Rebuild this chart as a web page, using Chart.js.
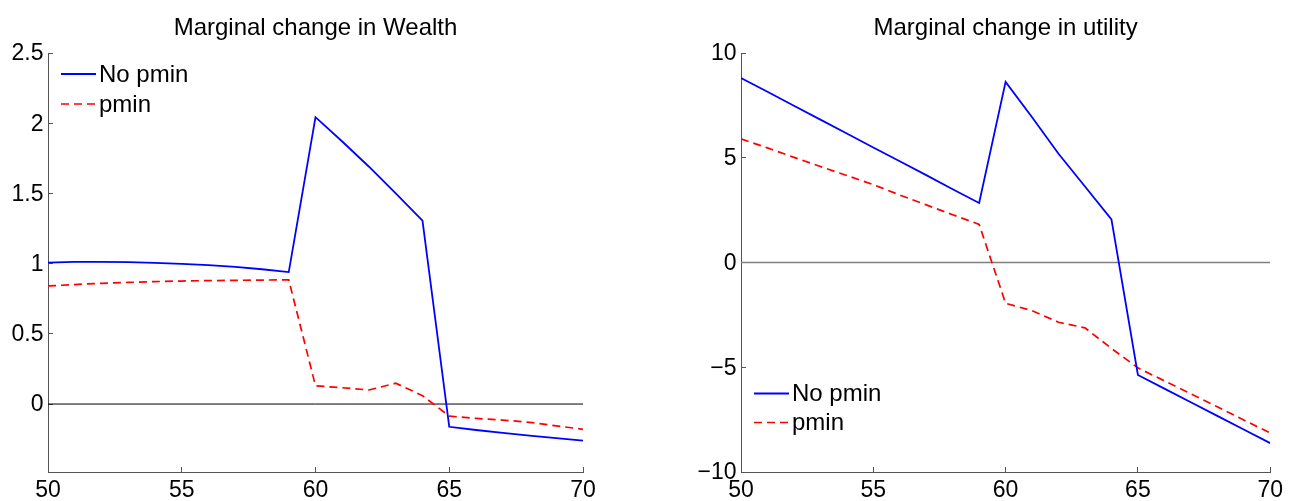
<!DOCTYPE html>
<html>
<head>
<meta charset="utf-8">
<script src="https://cdn.jsdelivr.net/npm/chart.js"></script>
<style>
  html, body { margin: 0; padding: 0; background: #fff; }
  #wrap { position: relative; width: 1293px; height: 501px; }
  #wealth { position: absolute; left: 0; top: 0; }
  #utility { position: absolute; left: 646px; top: 0; }
</style>
</head>
<body>
<div id="wrap">
  <canvas id="wealth" width="646" height="501"></canvas>
  <canvas id="utility" width="647" height="501"></canvas>
</div>
<script>
// ages on the x axis
const ages = [50, 51, 52, 53, 54, 55, 56, 57, 58, 59, 60, 61, 62, 63, 64, 65, 66, 67, 68, 69, 70];

// left panel: marginal change in wealth
const wealthNoPmin = [1.007, 1.012, 1.013, 1.01, 1.005, 0.998, 0.99, 0.977, 0.96, 0.94,
    2.043, 1.87, 1.69, 1.5, 1.306, -0.162, -0.185, -0.205, -0.225, -0.243, -0.26];
const wealthPmin = [0.841, 0.851, 0.86, 0.866, 0.872, 0.876, 0.879, 0.881, 0.883, 0.884,
    0.13, 0.116, 0.1, 0.148, 0.06, -0.086, -0.102, -0.114, -0.13, -0.155, -0.18];

// right panel: marginal change in utility
const utilityNoPmin = [8.81, 8.15, 7.48, 6.82, 6.16, 5.49, 4.83, 4.17, 3.5, 2.84,
    8.62, 6.93, 5.19, 3.63, 2.06, -5.37, -6.02, -6.67, -7.32, -7.97, -8.62];
const utilityPmin = [5.9, 5.47, 5.02, 4.58, 4.15, 3.72, 3.22, 2.75, 2.28, 1.82,
    -1.95, -2.3, -2.85, -3.12, -4.1, -5.03, -5.65, -6.27, -6.89, -7.52, -8.14];

// horizontal reference line at zero
const zeroAges = [50, 70];
const zeroValues = [0, 0];

const xTicks = [50, 55, 60, 65, 70];
const wealthTicks = [0, 0.5, 1, 1.5, 2, 2.5];
const utilityTicks = [-10, -5, 0, 5, 10];

const seriesLabels = ["No pmin", "pmin"];
const titles = ["Marginal change in Wealth", "Marginal change in utility"];

const FONT = "'Liberation Sans', Arial, Helvetica, sans-serif";
const AXIS_COLOR = "#555";

function toPoints(xs, ys) {
    return xs.map((x, i) => ({x: x, y: ys[i]}));
}

// legend drawn inside the plot box, like the matlab one
const insideLegend = {
    id: "insideLegend",
    afterDatasetsDraw(chart, args, opts) {
        const ctx = chart.ctx;
        const area = chart.chartArea;
        const items = chart.data.datasets.filter(ds => ds.label);
        let y = opts.corner === "top"
            ? area.top + opts.offsetY
            : area.bottom - opts.offsetY - (items.length - 1) * opts.rowHeight;
        ctx.save();
        items.forEach(ds => {
            ctx.beginPath();
            ctx.strokeStyle = ds.borderColor;
            ctx.lineWidth = ds.borderWidth;
            ctx.setLineDash(ds.borderDash || []);
            ctx.moveTo(area.left + 13, y);
            ctx.lineTo(area.left + 48, y);
            ctx.stroke();
            ctx.setLineDash([]);
            ctx.fillStyle = "#000";
            ctx.font = "24px " + FONT;
            ctx.textBaseline = "middle";
            ctx.textAlign = "left";
            ctx.fillText(ds.label, area.left + 51, y + 1);
            y += opts.rowHeight;
        });
        ctx.restore();
    }
};

function tickText(value) {
    return String(value).replace("-", "\u2212");
}

function buildChart(canvasId, cfg) {
    // eslint-disable-next-line no-undef
    return new Chart(document.getElementById(canvasId), {
        type: "line",
        data: {
            datasets: [
                {
                    label: seriesLabels[0],
                    data: toPoints(ages, cfg.noPmin),
                    borderColor: "#0000ff",
                    borderWidth: 1.8,
                    pointRadius: 0,
                    tension: 0,
                    fill: false
                },
                {
                    label: seriesLabels[1],
                    data: toPoints(ages, cfg.pmin),
                    borderColor: "#ff0000",
                    borderWidth: 1.7,
                    borderDash: [8, 5],
                    pointRadius: 0,
                    tension: 0,
                    fill: false
                },
                {
                    label: "",
                    data: toPoints(zeroAges, zeroValues),
                    borderColor: cfg.zeroColor,
                    borderWidth: cfg.zeroWidth,
                    pointRadius: 0,
                    fill: false
                }
            ]
        },
        plugins: [insideLegend],
        options: {
            responsive: false,
            animation: false,
            devicePixelRatio: 1,
            layout: {padding: {left: 0, right: cfg.padRight, top: 0, bottom: 0}},
            plugins: {
                legend: {display: false},
                tooltip: {enabled: false},
                title: {
                    display: true,
                    text: cfg.title,
                    fullSize: false,
                    color: "#000",
                    font: {family: FONT, size: 24, weight: "normal"},
                    padding: {top: 14, bottom: 10.2}
                },
                insideLegend: cfg.legend
            },
            scales: {
                x: {
                    type: "linear",
                    min: 50,
                    max: 70,
                    afterFit: (scale) => { scale.height = 29; },
                    afterBuildTicks: (scale) => { scale.ticks = xTicks.map(v => ({value: v})); },
                    border: {display: true, color: AXIS_COLOR, width: 1},
                    grid: {drawOnChartArea: false, drawTicks: true, tickLength: -5, color: AXIS_COLOR},
                    ticks: {
                        color: "#000",
                        padding: 10,
                        maxRotation: 0,
                        font: {family: FONT, size: 23},
                        callback: (v) => tickText(v)
                    }
                },
                y: {
                    type: "linear",
                    min: cfg.yMin,
                    max: cfg.yMax,
                    afterFit: (scale) => { scale.width = cfg.yWidth; },
                    afterBuildTicks: (scale) => { scale.ticks = cfg.yTicks.map(v => ({value: v})); },
                    border: {display: true, color: AXIS_COLOR, width: 1},
                    grid: {drawOnChartArea: false, drawTicks: true, tickLength: -5, color: AXIS_COLOR},
                    ticks: {
                        color: "#000",
                        padding: 9.5,
                        labelOffset: 1,
                        font: {family: FONT, size: 23},
                        callback: (v) => tickText(v)
                    }
                }
            }
        }
    });
}

buildChart("wealth", {
    title: titles[0],
    noPmin: wealthNoPmin,
    pmin: wealthPmin,
    yTicks: wealthTicks,
    yMin: -0.484,
    yMax: 2.5,
    yWidth: 48,
    padRight: 63,
    zeroColor: "#000",
    zeroWidth: 1,
    legend: {corner: "top", offsetY: 21, rowHeight: 30}
});

buildChart("utility", {
    title: titles[1],
    noPmin: utilityNoPmin,
    pmin: utilityPmin,
    yTicks: utilityTicks,
    yMin: -10,
    yMax: 10,
    yWidth: 95,
    padRight: 16,
    zeroColor: "#7f7f7f",
    zeroWidth: 1.5,
    legend: {corner: "bottom", offsetY: 49.5, rowHeight: 29}
});
</script>
</body>
</html>
